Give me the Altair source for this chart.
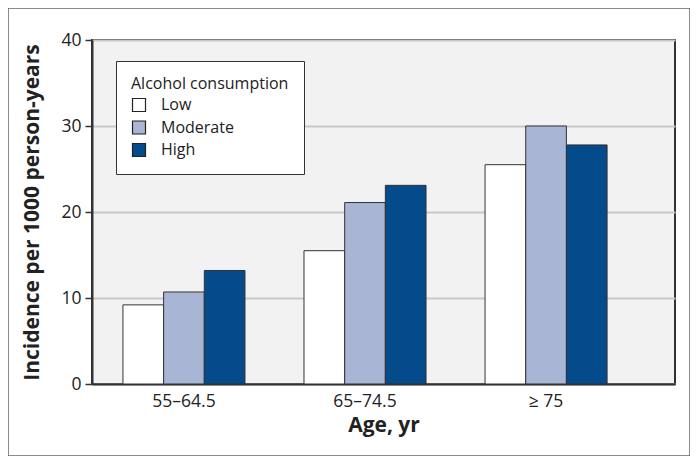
import altair as alt
import pandas as pd

ages = ["55–64.5", "65–74.5", "≥ 75"]
levels = ["Low", "Moderate", "High"]
low = [9.2, 15.5, 25.5]
moderate = [10.7, 21.1, 30.0]
high = [13.2, 23.1, 27.8]
colors = ["#ffffff", "#a8b5d4", "#034b8a"]

rows = []
for i, a in enumerate(ages):
    for lev, vals in zip(levels, [low, moderate, high]):
        rows.append({"age": a, "level": lev, "value": vals[i]})
df = pd.DataFrame(rows)

W, H = 583, 344

bars = alt.Chart(df).mark_bar(stroke="#333333", strokeWidth=1).encode(
    x=alt.X("age:N", sort=ages, title="Age, yr",
            scale=alt.Scale(paddingInner=0.326, paddingOuter=0.273, align=0.313),
            axis=alt.Axis(labelAngle=0, ticks=False, labelFontSize=17.5, labelPadding=8,
                          titleFontSize=21, titleFontWeight="bold", titlePadding=5,
                          domainColor="#333333", domainWidth=2, grid=False)),
    xOffset=alt.XOffset("level:N", sort=levels,
                        scale=alt.Scale(paddingInner=0, paddingOuter=0)),
    y=alt.Y("value:Q", title="Incidence per 1000 person-years",
            scale=alt.Scale(domain=[0, 40]),
            axis=alt.Axis(values=[0, 10, 20, 30, 40], labelFontSize=17.5, tickSize=7,
                          tickColor="#333333", tickWidth=1.5, labelPadding=4,
                          titleFontSize=21, titleFontWeight="bold", titlePadding=18,
                          domainColor="#333333", domainWidth=2,
                          gridColor="#c8c8c8", gridWidth=2)),
    fill=alt.Fill("level:N", sort=levels,
                  scale=alt.Scale(domain=levels, range=colors),
                  legend=alt.Legend(title="Alcohol consumption", orient="none",
                                    legendX=24, legendY=21, fillColor="white",
                                    strokeColor="#333333", padding=15,
                                    symbolType="square", symbolSize=169,
                                    symbolStrokeColor="#222222", symbolStrokeWidth=1.2,
                                    labelFontSize=16, titleFontSize=16,
                                    titleFontWeight="normal", rowPadding=4.5,
                                    titlePadding=5, labelOffset=14)),
)

border = alt.Chart(alt.Data(values=[{}])).mark_rect(
    fill=None, stroke="#666666", strokeWidth=1.5, clip=False
).encode(
    x=alt.value(-84), x2=alt.value(598),
    y=alt.value(-32), y2=alt.value(416),
)

chart = alt.layer(bars, border).properties(
    width=W, height=H,
    autosize=alt.AutoSizeParams(type="none"),
    padding={"left": 84, "top": 32, "right": 15, "bottom": 72},
).configure(
    font="Open Sans",
    background="white",
).configure_view(
    fill="#f2f2f2", stroke="#333333", strokeWidth=2
).configure_axis(
    labelColor="#222222", titleColor="#222222"
).configure_legend(
    labelColor="#222222", titleColor="#222222"
)

chart.save("out.html", embed_options={"renderer": "svg", "actions": False})
